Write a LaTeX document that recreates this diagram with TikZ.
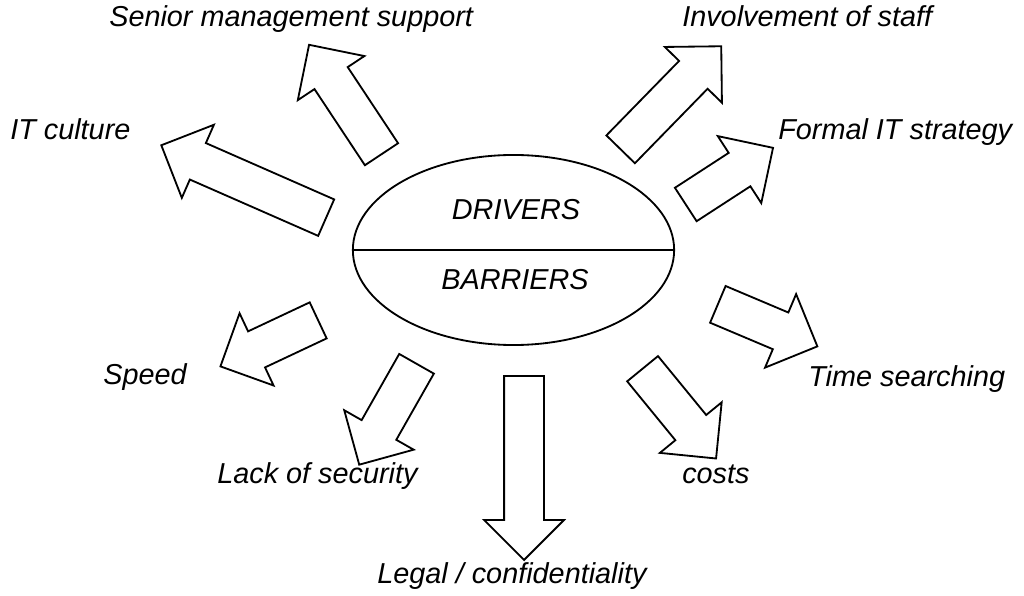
\documentclass[tikz,border=0pt]{standalone}
\usepackage{fontspec}
\setmainfont{Liberation Sans}
\usepackage{tikz}
\usetikzlibrary{positioning}
\usetikzlibrary{shapes.geometric,shapes.arrows}
\tikzset{block arrow/.style={single arrow,draw,line width=1.3pt,inner xsep=0pt,inner ysep=0.475cm,single arrow head extend=0.5cm,single arrow tip angle=90,anchor=tail},
	label text/.style={anchor=base west,inner sep=0pt,font=\fontsize{20.5pt}{24pt}\selectfont\itshape},}

\begin{document}
\begin{tikzpicture}[x=0.025cm, y=-0.025cm]
		\useasboundingbox (0,0) rectangle (1024,596);
		\node[ellipse, draw, line width=1.3pt, minimum width=8.03cm, minimum height=4.75cm] (hub) at (513.5,250) {};
		\draw[line width=1.3pt] (hub.west) -- (hub.east);
		\node[label text, anchor=base] (drivers) at (516,220) {DRIVERS};
		\node[label text, anchor=base] (barriers) at (515,290) {BARRIERS};
	
		% drivers
		\node[block arrow, rotate=156.3, minimum height=4.5cm] (culture) at (327,218) {};
		\node[block arrow, rotate=123.5, minimum height=3.28cm] (senior) at (382,155) {};
		\node[block arrow, rotate=45.7, minimum height=3.6cm] (staff) at (620,150) {};
		\node[block arrow, rotate=33, minimum height=2.6cm] (strategy) at (685,205) {};
		% barriers
		\node[block arrow, rotate=-22.9, minimum height=2.7cm] (searching) at (717,304) {};
		\node[block arrow, rotate=-50.7, minimum height=2.9cm] (costs) at (642,368) {};
		\node[block arrow, rotate=-90, minimum height=4.6cm] (legal) at (524,375) {};
		\node[block arrow, rotate=-119.6, minimum height=2.9cm] (security) at (417,363) {};
		\node[block arrow, rotate=205.2, minimum height=2.7cm] (speed) at (319,320) {};
	
		\node[label text] (l-senior) at (109,27) {Senior management support};
		\node[label text] (l-staff) at (682,27) {Involvement of staff};
		\node[label text] (l-culture) at (10,140) {IT culture};
		\node[label text] (l-strategy) at (778,140) {Formal IT strategy};
		\node[label text] (l-speed) at (103,384) {Speed};
		\node[label text] (l-searching) at (808,386) {Time searching};
		\node[label text] (l-security) at (217,483) {Lack of security};
		\node[label text] (l-costs) at (682,483) {costs};
		\node[label text] (l-legal) at (377,583) {Legal / confidentiality};
	\end{tikzpicture}
\end{document}
